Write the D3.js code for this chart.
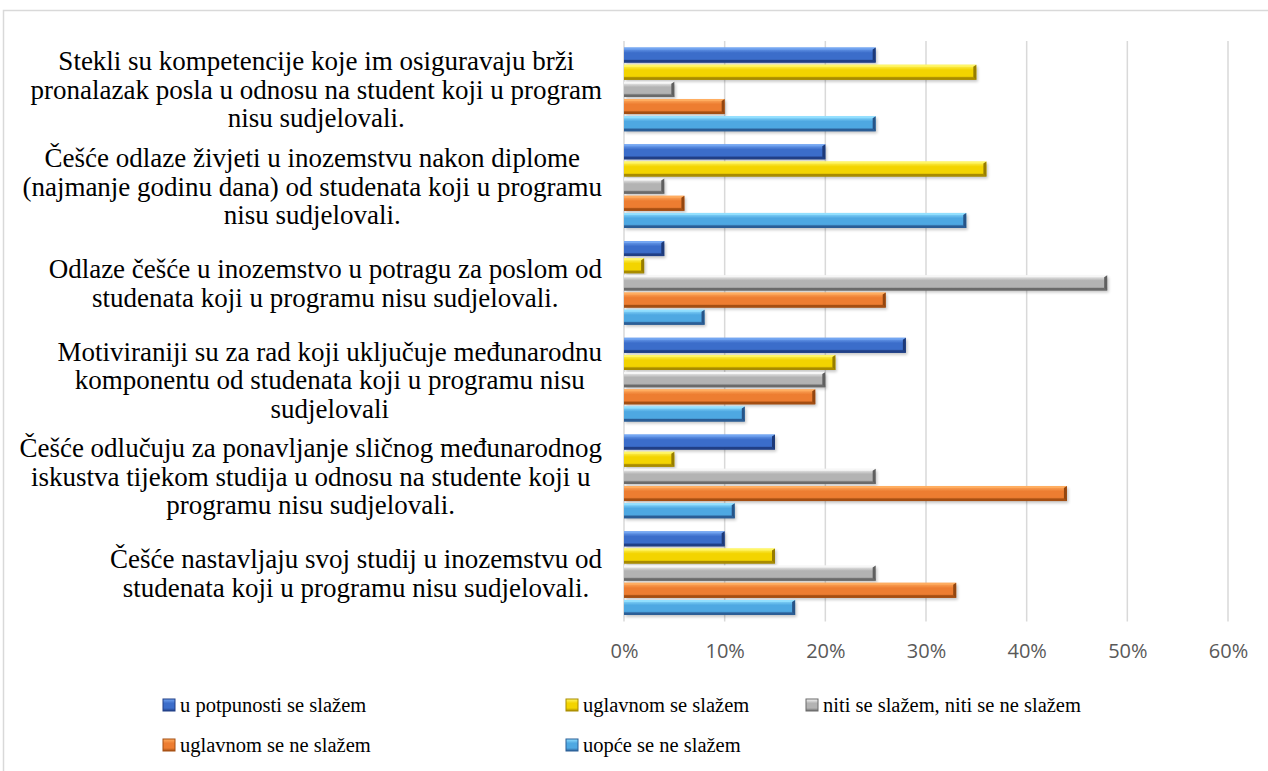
<!DOCTYPE html>
<html>
<head>
<meta charset="utf-8">
<script src="https://cdn.jsdelivr.net/npm/d3@7"></script>
<style>
  body { margin: 0; background: #fff; }
  svg { display: block; }
</style>
</head>
<body>
<div id="chart"></div>
<script>
// categories, top to bottom (line breaks as in the original)
const categories = [
    "Stekli su kompetencije koje im osiguravaju brži\npronalazak posla u odnosu na student koji u program\nnisu sudjelovali.",
    "Češće odlaze živjeti u inozemstvu nakon diplome\n(najmanje godinu dana) od studenata koji u programu\nnisu sudjelovali.",
    "Odlaze češće u inozemstvo u potragu za poslom od\nstudenata koji u programu nisu sudjelovali.",
    "Motiviraniji su za rad koji uključuje međunarodnu\nkomponentu od studenata koji u programu nisu\nsudjelovali",
    "Češće odlučuju za ponavljanje sličnog međunarodnog\niskustva tijekom studija u odnosu na studente koji u\nprogramu nisu sudjelovali.",
    "Češće nastavljaju svoj studij u inozemstvu od\nstudenata koji u programu nisu sudjelovali."
];
const seriesNames = [
    "u potpunosti se slažem",
    "uglavnom se slažem",
    "niti se slažem, niti se ne slažem",
    "uglavnom se ne slažem",
    "uopće se ne slažem"
];
// values in %
const uPotpunosti = [25, 20, 4, 28, 15, 10];
const uglavnomDa = [35, 36, 2, 21, 5, 15];
const nitiNiti = [5, 4, 48, 20, 25, 25];
const uglavnomNe = [10, 6, 26, 19, 44, 33];
const uopceNe = [25, 34, 8, 12, 11, 17];
const tickValues = [0, 10, 20, 30, 40, 50, 60];

const seriesValues = [uPotpunosti, uglavnomDa, nitiNiti, uglavnomNe, uopceNe];

// light / main / dark tones per series
const palette = [
    { light: "#74a6f2", main: "#3b6dca", dark: "#203f86" },
    { light: "#fff66a", main: "#f3d400", dark: "#a88b00" },
    { light: "#f7f7f7", main: "#b3b3b3", dark: "#6a6a6a" },
    { light: "#ffae62", main: "#ed7d31", dark: "#a44e12" },
    { light: "#93e0ff", main: "#4ea8e2", dark: "#2b5e96" }
];

const width = 1268, height = 771;
const plot = { left: 624, right: 1228, top: 41, bottom: 621.5 };
const serif = "'Liberation Serif', 'Times New Roman', serif";

const svg = d3.select("#chart").append("svg")
    .attr("width", width)
    .attr("height", height);

const defs = svg.append("defs");
palette.forEach((p, i) => {
    const g = defs.append("linearGradient")
        .attr("id", "grad" + i)
        .attr("x1", 0).attr("y1", 0).attr("x2", 0).attr("y2", 1);
    g.append("stop").attr("offset", "0%").attr("stop-color", p.light);
    g.append("stop").attr("offset", "35%").attr("stop-color", p.main);
    g.append("stop").attr("offset", "75%").attr("stop-color", p.main);
    g.append("stop").attr("offset", "100%").attr("stop-color", p.dark);
});
const shadow = defs.append("filter").attr("id", "shadow")
    .attr("x", "-5%").attr("y", "-30%").attr("width", "115%").attr("height", "180%");
shadow.append("feGaussianBlur").attr("stdDeviation", 1.5);

// outer frame
svg.append("rect")
    .attr("x", 3.5).attr("y", 10.5)
    .attr("width", 1400).attr("height", 900)
    .attr("fill", "none")
    .attr("stroke", "#d9d9d9")
    .attr("stroke-width", 1.5);

const x = d3.scaleLinear()
    .domain([0, 60])
    .range([plot.left, plot.right]);

const y0 = d3.scaleBand()
    .domain(d3.range(categories.length))
    .range([plot.top, plot.bottom]);

const y1 = d3.scaleBand()
    .domain(d3.range(seriesNames.length))
    .range([6.5, y0.bandwidth() - 6.5])
    .paddingInner(0.12);

// gridlines
svg.append("g")
    .selectAll("line")
    .data(tickValues)
    .join("line")
    .attr("x1", d => x(d)).attr("x2", d => x(d))
    .attr("y1", plot.top).attr("y2", plot.bottom)
    .attr("stroke", "#d9d9d9")
    .attr("stroke-width", 1.5);

// x axis labels
const xAxis = d3.axisBottom(x)
    .tickValues(tickValues)
    .tickFormat(d => d + "%")
    .tickSize(0)
    .tickPadding(0);

svg.append("g")
    .attr("transform", `translate(0, ${plot.bottom + 22})`)
    .call(xAxis)
    .call(g => g.select(".domain").remove())
    .selectAll("text")
    .attr("font-family", "'Open Sans', sans-serif")
    .attr("font-size", 20)
    .attr("fill", "#595959");

function drawBevelBar(g, x0, x1, yy, h, si) {
    const p = palette[si];
    const b = Math.min(3, (x1 - x0) / 2);
    g.append("rect")
        .attr("x", x0 + 1.5).attr("y", yy + 2)
        .attr("width", x1 - x0).attr("height", h)
        .attr("fill", "#000").attr("opacity", 0.22)
        .attr("filter", "url(#shadow)");
    g.append("rect")
        .attr("x", x0).attr("y", yy)
        .attr("width", x1 - x0).attr("height", h)
        .attr("fill", `url(#grad${si})`);
    g.append("polygon")
        .attr("points", [[x0, yy], [x1, yy], [x1 - b, yy + 2], [x0, yy + 2]].join(" "))
        .attr("fill", p.light).attr("opacity", 0.9);
    g.append("polygon")
        .attr("points", [[x0, yy + h], [x1, yy + h], [x1 - b, yy + h - 2.5], [x0, yy + h - 2.5]].join(" "))
        .attr("fill", p.dark);
    g.append("polygon")
        .attr("points", [[x1, yy], [x1, yy + h], [x1 - b, yy + h - 2.5], [x1 - b, yy + 2]].join(" "))
        .attr("fill", d3.color(p.dark).darker(0.3));
}

// bars
const barsG = svg.append("g");
categories.forEach((c, ci) => {
    seriesValues.forEach((vals, si) => {
        drawBevelBar(barsG, x(0), x(vals[ci]), y0(ci) + y1(si), y1.bandwidth(), si);
    });
});

// category labels: each block right-aligned near the axis, lines centred in it
const labelG = svg.append("g")
    .attr("font-family", serif)
    .attr("font-size", 27)
    .attr("fill", "#000")
    .attr("text-anchor", "middle");

const lineH = 28.5;
const labelRight = 602;
categories.forEach((c, ci) => {
    const lines = c.split("\n");
    const cy = y0(ci) + y0.bandwidth() / 2;
    const t = labelG.append("text")
        .attr("y", cy - (lines.length - 1) * lineH / 2);
    const spans = lines.map((ln, li) => t.append("tspan")
        .attr("dy", li === 0 ? "0.35em" : lineH)
        .text(ln));
    const w = d3.max(spans, s => s.node().getComputedTextLength());
    spans.forEach(s => s.attr("x", labelRight - w / 2));
});

// legend
const legendPos = [[163, 705], [566, 705], [806, 705], [163, 745], [566, 745]];
const legendG = svg.append("g")
    .attr("font-family", serif)
    .attr("font-size", 20.5)
    .attr("fill", "#000");

seriesNames.forEach((name, si) => {
    const [lx, ly] = legendPos[si];
    const p = palette[si];
    legendG.append("rect")
        .attr("x", lx).attr("y", ly - 6)
        .attr("width", 12).attr("height", 12)
        .attr("fill", `url(#grad${si})`)
        .attr("stroke", p.dark).attr("stroke-width", 1);
    legendG.append("text")
        .attr("x", lx + 17)
        .attr("y", ly)
        .attr("dy", "0.35em")
        .text(name);
});
</script>
</body>
</html>
